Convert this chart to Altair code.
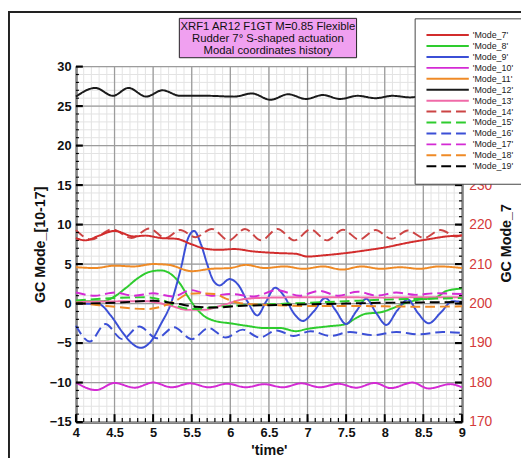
import altair as alt
import pandas as pd

# ---------------- data ----------------
SERIES = ["'Mode_7'", "'Mode_8'", "'Mode_9'", "'Mode_10'", "'Mode_11'", "'Mode_12'", "'Mode_13'",
          "'Mode_14'", "'Mode_15'", "'Mode_16'", "'Mode_17'", "'Mode_18'", "'Mode_19'"]
COLORS = ["#d22c2c", "#2ecc2e", "#3b4fd6", "#d42ad4", "#ef8a26", "#1a1a1a", "#f06aa8",
          "#cc4444", "#2ecc2e", "#3b4fd6", "#d42ad4", "#ef8a26", "#000000"]
DASHES = [[1, 0]] * 7 + [[10, 5]] * 6

TITLE_LINES = ["XRF1 AR12 F1GT M=0.85 Flexible", "Rudder 7\u00b0 S-shaped actuation",
               "Modal coordinates history"]

# Mode_7 is read on the right axis (GC Mode_7)
m7_t = [4.0, 4.12, 4.3, 4.5, 4.75, 4.9, 5.1, 5.3, 5.5, 5.65, 5.85, 6.05, 6.3, 6.6, 6.85, 7.0,
        7.2, 7.5, 7.8, 8.0, 8.3, 8.6, 8.8, 9.0]
m7_v = [216.6, 216.0, 217.2, 218.4, 217.0, 217.2, 216.6, 216.4, 215.0, 214.0, 213.6, 213.8,
        213.2, 212.8, 212.6, 211.9, 212.2, 212.8, 213.6, 214.2, 215.4, 216.4, 217.0, 217.2]

m8_t = [4.0, 4.35, 4.5, 4.65, 4.8, 4.95, 5.1, 5.22, 5.35, 5.45, 5.55, 5.65, 5.8, 6.0, 6.2,
        6.45, 6.65, 6.85, 7.0, 7.25, 7.5, 7.6, 7.75, 7.95, 8.1, 8.25, 8.45, 8.65, 8.8, 9.0]
m8_v = [0.3, 0.3, 0.9, 2.0, 3.2, 4.0, 4.2, 3.8, 2.5, 0.9, -0.5, -1.5, -2.2, -2.5, -2.8,
        -3.1, -3.1, -3.5, -3.2, -2.9, -2.6, -2.0, -1.3, -1.1, -0.6, 0.0, 0.5, 0.7, 1.6, 1.9]

m9_t = [4.0, 4.3, 4.45, 4.6, 4.72, 4.84, 4.97, 5.1, 5.23, 5.36, 5.45, 5.53, 5.62, 5.7, 5.78,
        5.86, 5.99, 6.1, 6.22, 6.35, 6.46, 6.58, 6.7, 6.82, 6.94, 7.08, 7.23, 7.36, 7.5, 7.63,
        7.76, 7.89, 8.02, 8.16, 8.3, 8.43, 8.57, 8.72, 8.88, 9.0]
m9_v = [0.0, -0.1, -1.5, -3.6, -5.0, -5.6, -4.8, -2.6, 0.0, 4.5, 8.2, 9.2, 7.5, 5.0, 2.9,
        2.3, 3.1, 2.4, 0.3, -1.5, 0.2, 2.0, 0.9, -1.2, -2.2, -1.0, 0.7, -0.8, -2.6, -1.0,
        0.6, -1.2, -2.7, -0.9, 0.5, -1.2, -2.5, -1.2, 0.3, 0.2]

m10_t = [4.0, 4.26, 4.5, 4.76, 5.0, 5.24, 5.48, 5.72, 5.96, 6.2, 6.44, 6.68, 6.92, 7.16, 7.4,
         7.63, 7.87, 8.08, 8.36, 8.57, 8.85, 9.0]
m10_v = [-10.0, -10.95, -10.05, -10.65, -10.0, -10.6, -10.1, -10.6, -10.15, -10.6, -10.2,
         -10.6, -10.1, -10.6, -10.15, -10.65, -10.05, -10.7, -10.0, -10.75, -10.2, -10.6]

m11_t = [4.0, 4.25, 4.5, 4.75, 5.0, 5.2, 5.5, 5.75, 6.0, 6.2, 6.45, 6.7, 6.95, 7.2, 7.45,
         7.7, 7.95, 8.2, 8.45, 8.7, 9.0]
m11_v = [4.6, 4.5, 4.8, 4.7, 5.0, 4.9, 4.1, 4.4, 4.5, 4.9, 4.5, 4.7, 4.4, 4.7, 4.3,
         4.7, 4.4, 4.6, 4.4, 4.7, 4.5]

m12_t = [4.0, 4.25, 4.48, 4.68, 4.91, 5.12, 5.35, 5.7, 6.05, 6.28, 6.52, 6.75, 6.98, 7.2,
         7.42, 7.65, 7.88, 8.1, 8.33, 8.55, 8.78, 9.0]
m12_v = [26.2, 27.3, 26.3, 27.3, 26.2, 27.0, 26.3, 26.3, 26.2, 26.6, 25.8, 26.5, 25.9, 26.4,
         25.9, 26.3, 26.0, 26.3, 26.1, 26.4, 26.2, 26.4]

m13_t = [4.0, 4.9, 5.2, 5.45, 5.65, 5.9, 6.2, 6.5, 7.0, 7.5, 8.0, 8.5, 9.0]
m13_v = [0.2, 0.3, -0.2, -0.8, -0.8, -0.2, 0.6, 0.75, 0.8, 0.8, 0.75, 0.8, 0.8]

m14_t = [4.0, 4.2, 4.47, 4.72, 4.95, 5.16, 5.35, 5.55, 5.76, 5.98, 6.19, 6.4, 6.61, 6.83,
         7.04, 7.25, 7.46, 7.67, 7.88, 8.09, 8.3, 8.51, 8.72, 8.93, 9.0]
m14_v = [9.3, 8.1, 9.4, 8.3, 9.5, 8.3, 9.3, 8.4, 9.45, 8.0, 9.45, 8.0, 9.45, 8.0,
         9.4, 8.0, 9.35, 8.1, 9.3, 8.2, 9.25, 8.3, 9.3, 8.5, 8.7]

m15_t = [4.0, 4.5, 4.9, 5.1, 5.3, 5.5, 5.75, 6.0, 6.5, 7.0, 7.5, 8.0, 8.5, 9.0]
m15_v = [0.4, 0.7, 0.8, 0.5, -0.3, -0.7, -0.5, -0.3, -0.1, 0.1, 0.3, 0.5, 0.6, 0.7]

m16_t = [4.0, 4.18, 4.38, 4.6, 4.82, 5.05, 5.27, 5.5, 5.72, 5.94, 6.16, 6.38, 6.6, 6.82,
         7.04, 7.3, 7.55, 7.85, 8.15, 8.45, 8.75, 9.0]
m16_v = [-2.8, -4.8, -2.6, -4.5, -2.9, -4.4, -3.0, -4.5, -3.1, -4.3, -3.3, -4.3, -3.4, -4.1,
         -3.5, -4.1, -3.6, -4.0, -3.6, -3.9, -3.6, -3.7]

m17_t = [4.0, 4.25, 4.5, 4.75, 5.0, 5.25, 5.5, 5.75, 6.0, 6.3, 6.6, 6.9, 7.15, 7.4, 7.65,
         7.9, 8.15, 8.4, 8.65, 9.0]
m17_v = [1.4, 1.0, 1.4, 1.0, 1.3, 0.9, 1.7, 1.0, 1.2, 0.9, 1.7, 1.0, 1.6, 1.0, 1.5,
         1.0, 1.4, 1.1, 1.3, 1.2]

m18_t = [4.0, 4.3, 4.6, 4.9, 5.1, 5.3, 5.45, 5.6, 5.8, 5.95, 6.1, 6.3, 6.6, 7.0, 7.5, 8.0,
         8.5, 9.0]
m18_v = [0.1, -0.2, -0.5, -0.7, -0.4, 0.4, 1.2, 1.3, 1.2, 0.6, 0.1, -0.1, -0.2, -0.3, -0.3,
         -0.35, -0.4, -0.35]

m19_t = [4.0, 4.5, 5.0, 5.3, 5.55, 5.8, 6.1, 6.5, 7.0, 7.5, 8.0, 8.5, 9.0]
m19_v = [0.0, 0.1, 0.35, 0.0, -0.4, -0.5, -0.3, -0.2, -0.1, 0.0, 0.1, 0.15, 0.2]

MAJOR_X = [4, 4.5, 5, 5.5, 6, 6.5, 7, 7.5, 8, 8.5, 9]
MAJOR_Y = [-15, -10, -5, 0, 5, 10, 15, 20, 25, 30]
RIGHT_LABELS = [170, 180, 190, 200, 210, 220, 230]
MINOR_X = [round(4 + 0.1 * i, 1) for i in range(51)]
MINOR_Y = list(range(-15, 31))
RIGHT_MAJOR = [-15, -10, -5, 0, 5, 10, 15]
RIGHT_MINOR = list(range(-15, 16))

# ---------------- build tables ----------------
left_series = [
    (SERIES[1], m8_t, m8_v), (SERIES[2], m9_t, m9_v), (SERIES[3], m10_t, m10_v),
    (SERIES[4], m11_t, m11_v), (SERIES[5], m12_t, m12_v), (SERIES[6], m13_t, m13_v),
    (SERIES[7], m14_t, m14_v), (SERIES[8], m15_t, m15_v), (SERIES[9], m16_t, m16_v),
    (SERIES[10], m17_t, m17_v), (SERIES[11], m18_t, m18_v), (SERIES[12], m19_t, m19_v),
]
rows = []
for name, ts, vs in left_series:
    for t, v in zip(ts, vs):
        rows.append({"series": name, "time": t, "value": v})
df_left = pd.DataFrame(rows)
df_right = pd.DataFrame({"series": [SERIES[0]] * len(m7_t), "time": m7_t, "value": m7_v})

W, H = 392, 361
FONT = "Liberation Sans"
xs = alt.Scale(domain=[4, 9], nice=False, zero=False)
ys = alt.Scale(domain=[-15, 30], nice=False, zero=False)
yr = alt.Scale(domain=[170, 260], nice=False, zero=False)

leg = alt.Legend(orient="none", legendX=344, legendY=-49, title=None,
                 symbolType="M-1.25,0H9.5", symbolSize=64, symbolStrokeWidth=2,
                 labelFont=FONT, labelFontSize=9, labelColor="#222", labelOffset=37,
                 rowPadding=1.1, padding=12, strokeColor="#444", fillColor="white",
                 zindex=1, labelLimit=200)
color = alt.Color("series:N", scale=alt.Scale(domain=SERIES, range=COLORS), legend=leg)
dash = alt.StrokeDash("series:N", scale=alt.Scale(domain=SERIES, range=DASHES), legend=leg)

x_axis = alt.Axis(title="'time'", values=MAJOR_X, format="~g", ticks=False, grid=False,
                  domainColor="black", domainWidth=2, labelFont=FONT, labelFontSize=13,
                  labelFontWeight="bold", labelColor="#111", labelPadding=5, labelFlush=False,
                  titleFont=FONT, titleFontSize=14.5, titleFontWeight="bold", titleColor="#111",
                  titleX=W / 2, titleY=29, titleBaseline="middle")
y_axis = alt.Axis(title="GC Mode_[10-17]", values=MAJOR_Y, format="d", ticks=False, grid=False,
                  domainColor="black", domainWidth=2, labelFont=FONT, labelFontSize=13,
                  labelFontWeight="bold", labelColor="#111", labelPadding=5, labelFlush=False,
                  titleFont=FONT, titleFontSize=14.5, titleFontWeight="bold", titleColor="#111",
                  titleAngle=270, titleX=-36, titleY=H / 2, titleBaseline="middle")


def vrules(vals, col, w):
    return alt.Chart(pd.DataFrame({"x": vals})).mark_rule(color=col, strokeWidth=w).encode(
        x=alt.X("x:Q", scale=xs, axis=x_axis))


def hrules(vals, col, w):
    return alt.Chart(pd.DataFrame({"y": vals})).mark_rule(color=col, strokeWidth=w).encode(
        y=alt.Y("y:Q", scale=ys, axis=y_axis))


grid = [vrules(MINOR_X, "#e3e3e3", 1), hrules(MINOR_Y, "#e3e3e3", 1),
        vrules(MAJOR_X, "#9c9c9c", 1.3), hrules(MAJOR_Y, "#9c9c9c", 1.3)]

lines = alt.Chart(df_left).mark_line(interpolate="monotone", strokeWidth=2).encode(
    x=alt.X("time:Q", scale=xs, axis=x_axis),
    y=alt.Y("value:Q", scale=ys, axis=y_axis),
    color=color, strokeDash=dash)


def xticks(vals, length, w):
    return alt.Chart(pd.DataFrame({"x": vals})).mark_rule(color="black", strokeWidth=w).encode(
        x=alt.X("x:Q", scale=xs, axis=x_axis), y=alt.value(H), y2=alt.value(H - length))


def yticks(vals, x0, x1, w):
    return alt.Chart(pd.DataFrame({"y": vals})).mark_rule(color="black", strokeWidth=w).encode(
        y=alt.Y("y:Q", scale=ys, axis=y_axis), x=alt.value(x0), x2=alt.value(x1))


ticks = [xticks(MINOR_X, 4, 1.2), xticks(MAJOR_X, 8, 2),
         yticks(MINOR_Y, 0, 3, 1.2), yticks(MAJOR_Y, 0, 7, 2.2),
         yticks(RIGHT_MINOR, W, W - 3, 1.2), yticks(RIGHT_MAJOR, W, W - 7, 2.2)]

one = pd.DataFrame({"a": [0]})
title_box = alt.Chart(one).mark_rect(fill="#f0a0f0", stroke="#222", strokeWidth=1).encode(
    x=alt.value(105), x2=alt.value(285), y=alt.value(-49), y2=alt.value(-9))
title_text = alt.Chart(one).mark_text(font=FONT, fontSize=11.5, color="#111", align="center",
                                      baseline="top", lineBreak="\n", lineHeight=12.3).encode(
    x=alt.value(195), y=alt.value(-46), text=alt.value("\n".join(TITLE_LINES)))
frame_left = alt.Chart(one).mark_rule(color="#222", strokeWidth=2).encode(
    x=alt.value(-68), y=alt.value(-56), y2=alt.value(H + 40))
frame_top = alt.Chart(one).mark_rule(color="#222", strokeWidth=2).encode(
    y=alt.value(-55.5), x=alt.value(-69), x2=alt.value(W + 70))

inner = alt.layer(*grid, lines, *ticks, title_box, title_text, frame_left, frame_top)

r_axis = alt.Axis(orient="right", title="GC Mode_7", values=RIGHT_LABELS, format="d",
                  ticks=False, grid=False, domainColor="black", domainWidth=2,
                  labelFont=FONT, labelFontSize=14, labelColor="#d43a3a", labelPadding=7,
                  labelFlush=False, titleFont=FONT, titleFontSize=14.5, titleFontWeight="bold",
                  titleColor="#111", titleAngle=270, titleX=45, titleY=179,
                  titleBaseline="middle")
right = alt.Chart(df_right).mark_line(interpolate="monotone", strokeWidth=2).encode(
    x=alt.X("time:Q", scale=xs, axis=x_axis),
    y=alt.Y("value:Q", scale=yr, axis=r_axis),
    color=color, strokeDash=dash)

chart = alt.layer(inner, right).resolve_scale(y="independent").properties(
    width=W, height=H,
    padding={"left": 69, "top": 56, "right": 60, "bottom": 33},
    autosize=alt.AutoSizeParams(type="none"),
    background="white",
).configure_view(stroke="transparent")

chart.save("out.html", embed_options={"renderer": "svg", "actions": False})
